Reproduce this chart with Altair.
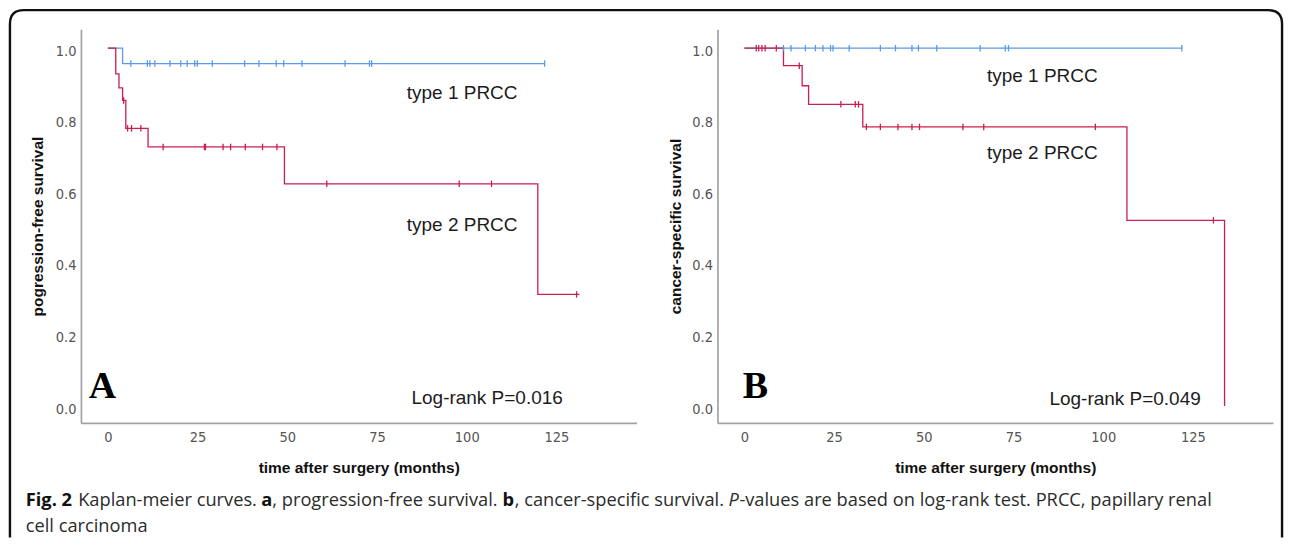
import altair as alt
import pandas as pd

# ---------------- data ----------------
BLUE = "#5b9ae4"
RED = "#c91e50"
GROUPS = ["type 1 PRCC", "type 2 PRCC"]
X_TICKS = [0, 25, 50, 75, 100, 125]
Y_TICKS = [0.0, 0.2, 0.4, 0.6, 0.8, 1.0]

# Panel A : progression-free survival
A1_TIME = [0, 4.1, 121.7]
A1_SURV = [1.0, 0.957, 0.957]
A1_CENS = [6.4, 11.0, 11.7, 13.1, 17.3, 20.3, 22.1, 24.2, 24.9, 29.1, 38.1,
           42.1, 46.9, 49.0, 54.1, 66.1, 72.9, 73.5, 121.7]
A2_TIME = [0, 2.2, 3.1, 4.1, 5.0, 11.2, 49.2, 119.8, 131.4]
A2_SURV = [1.0, 0.928, 0.889, 0.854, 0.776, 0.724, 0.621, 0.312, 0.312]
A2_CENS = [4.4, 5.5, 6.6, 9.2, 15.4, 26.9, 27.2, 32.1, 34.2, 38.3, 43.1,
           47.1, 61.0, 97.9, 106.9, 130.6]

# Panel B : cancer-specific survival
B1_TIME = [0, 121.9]
B1_SURV = [1.0, 1.0]
B1_CENS = [10.9, 13.0, 17.0, 19.8, 21.9, 24.0, 24.7, 29.2, 37.9, 42.1, 46.7,
           48.5, 53.6, 65.7, 72.7, 73.6, 121.9]
B2_TIME = [0, 10.9, 16.1, 17.9, 33.0, 106.6, 133.8]
B2_SURV = [1.0, 0.951, 0.895, 0.843, 0.780, 0.519, 0.0]
B2_CENS = [3.3, 4.0, 4.9, 5.8, 8.9, 15.3, 26.9, 30.9, 31.8, 34.0, 37.9,
           42.8, 46.7, 48.8, 60.9, 66.7, 97.8, 130.7]

A_NOTES = ["type 1 PRCC", "type 2 PRCC", "Log-rank P=0.016"]
A_NOTE_T = [83.3, 83.3, 84.6]
A_NOTE_S = [0.875, 0.507, 0.023]
B_NOTES = ["type 1 PRCC", "type 2 PRCC", "Log-rank P=0.049"]
B_NOTE_T = [67.6, 67.6, 85.0]
B_NOTE_S = [0.923, 0.708, 0.020]
A_LETTER = ("A", -1.5, 0.054)
B_LETTER = ("B", 3.1, 0.052)

CAPTION_1 = [("Fig. 2", "bold"), (" Kaplan-meier curves. ", "normal"), ("a", "bold"),
             (", progression-free survival. ", "normal"), ("b", "bold"),
             (", cancer-specific survival. ", "normal"), ("P", "italic"),
             ("-values are based on log-rank test. PRCC, papillary renal", "normal")]
CAPTION_2 = [("cell carcinoma", "normal")]

# ---------------- helpers ----------------
def surv_at(times, survs, t):
    v = survs[0]
    for ti, si in zip(times, survs):
        if ti <= t:
            v = si
    return v


def steps_df(t1, s1, t2, s2):
    rows = [{"t": t, "s": s, "g": GROUPS[0]} for t, s in zip(t1, s1)]
    rows += [{"t": t, "s": s, "g": GROUPS[1]} for t, s in zip(t2, s2)]
    return pd.DataFrame(rows)


def cens_df(t1, s1, c1, t2, s2, c2):
    rows = [{"t": c, "s": surv_at(t1, s1, c), "g": GROUPS[0]} for c in c1]
    rows += [{"t": c, "s": surv_at(t2, s2, c), "g": GROUPS[1]} for c in c2]
    return pd.DataFrame(rows)


W, H = 556, 394
XDOM = [-7.5, 147.3]
YDOM = [-0.047, 1.053]
TICK_FONT = "Liberation Sans Narrow, DejaVu Sans Condensed, Liberation Sans, sans-serif"


def panel(steps, cens, notes, letter, ytitle, ytitle_x, extra=()):
    X = alt.X("t:Q", scale=alt.Scale(domain=XDOM, nice=False, zero=False),
              axis=alt.Axis(values=X_TICKS, title="time after surgery (months)",
                            titleX=W / 2, titleY=50, titleAlign="center",
                            titleBaseline="alphabetic", labelPadding=7.5))
    Y = alt.Y("s:Q", scale=alt.Scale(domain=YDOM, nice=False, zero=False),
              axis=alt.Axis(values=Y_TICKS, format=".1f", title=ytitle,
                            titleX=ytitle_x, titleY=H / 2, titleAngle=270,
                            titleAlign="center", titleBaseline="alphabetic",
                            labelPadding=5, labelOffset=3))
    col = alt.Color("g:N", scale=alt.Scale(domain=GROUPS, range=[BLUE, RED]), legend=None)
    lines = alt.Chart(steps).mark_line(interpolate="step-after", strokeWidth=1.3).encode(
        x=X, y=Y, color=col, detail="g:N")
    marks = alt.Chart(cens).mark_point(shape="M0,-1L0,1", size=42, strokeWidth=1.3,
                                       filled=False, opacity=1).encode(x=X, y=Y, color=col)
    txt = alt.Chart(notes).mark_text(align="left", baseline="middle", font="Liberation Sans",
                                     fontSize=19, color="#1b1b1b").encode(x=X, y=Y, text="label:N")
    let = alt.Chart(pd.DataFrame([{"label": letter[0], "t": letter[1], "s": letter[2]}])).mark_text(
        align="center", baseline="middle", font="Liberation Serif", fontWeight="bold",
        fontSize=38, color="#000").encode(x=X, y=Y, text="label:N")
    return alt.layer(lines, marks, txt, let, *extra).properties(width=W, height=H)


# ---------------- caption & frame (drawn in panel A's coordinate frame) ----------------
OX, OY = 80.25, 28.25     # panel A plot origin on the page
OS_W = {' ': 532, ',': 502, '.': 545, '-': 659, '2': 1171, 'C': 1266, 'F': 1063,
        'K': 1188, 'P': 1208, 'R': 1243, 'a': 1139, 'b': 1255, 'c': 975, 'd': 1255,
        'e': 1149, 'f': 694, 'g': 1122, 'i': 518, 'k': 1075, 'l': 518, 'm': 1905,
        'n': 1257, 'o': 1237, 'p': 1255, 'r': 836, 's': 977, 't': 723, 'u': 1257,
        'v': 1026, 'y': 1028}


def em(s, style):
    w = sum(OS_W.get(c, 1100) for c in s) / 2048.0
    return w * (1.08 if style == "bold" else 1.0)


line1_em = sum(em(s, st) for s, st in CAPTION_1)
CAP_FS = (1211.5 - 25) / line1_em
ONE = pd.DataFrame({"k": [0]})


def caption_layers(segs, x0, base_y):
    out = []
    x = x0
    for s, st in segs:
        lead = len(s) - len(s.lstrip(" "))
        x += em(" " * lead, st) * CAP_FS
        body = s.strip(" ")
        out.append(alt.Chart(ONE).mark_text(
            text=body, align="left", baseline="alphabetic", font="Open Sans",
            fontSize=CAP_FS, fontWeight="bold" if st == "bold" else "normal",
            fontStyle="italic" if st == "italic" else "normal",
            color="#111" if st == "bold" else "#2b2b2b").encode(
            x=alt.value(x - OX), y=alt.value(base_y - OY)))
        x += em(body, st) * CAP_FS
        trail = len(s) - len(s.rstrip(" "))
        x += em(" " * trail, st) * CAP_FS
    return out


# open-bottomed rounded frame drawn as a filled band (page coords -> panel A coords)
BAND = 2.4
LO, TO, RO, BOT, RAD = 8.0, 8.0, 1283.5, 537.0, 15.0
LI, TI, RI, RADI = LO + BAND, TO + BAND, RO - BAND, RAD - BAND


def P(x, y):
    return f"{x - OX:.2f},{y - OY:.2f}"


FRAME_PATH = (f"M{P(LO, BOT)}L{P(LO, TO + RAD)}Q{P(LO, TO)} {P(LO + RAD, TO)}"
              f"L{P(RO - RAD, TO)}Q{P(RO, TO)} {P(RO, TO + RAD)}L{P(RO, BOT)}"
              f"L{P(RI, BOT)}L{P(RI, TI + RADI)}Q{P(RI, TI)} {P(RI - RADI, TI)}"
              f"L{P(LI + RADI, TI)}Q{P(LI, TI)} {P(LI, TI + RADI)}L{P(LI, BOT)}Z")
frame = alt.Chart(ONE).mark_point(shape=FRAME_PATH, size=4, filled=True, fill="#111",
                                  strokeWidth=0, opacity=1).encode(
    x=alt.value(0), y=alt.value(0))

extras = [frame] + caption_layers(CAPTION_1, 25, 505) + caption_layers(CAPTION_2, 25, 531)

A = panel(steps_df(A1_TIME, A1_SURV, A2_TIME, A2_SURV),
          cens_df(A1_TIME, A1_SURV, A1_CENS, A2_TIME, A2_SURV, A2_CENS),
          pd.DataFrame({"label": A_NOTES, "t": A_NOTE_T, "s": A_NOTE_S}),
          A_LETTER, "pogression-free  survival", -38, extras)
B = panel(steps_df(B1_TIME, B1_SURV, B2_TIME, B2_SURV),
          cens_df(B1_TIME, B1_SURV, B1_CENS, B2_TIME, B2_SURV, B2_CENS),
          pd.DataFrame({"label": B_NOTES, "t": B_NOTE_T, "s": B_NOTE_S}),
          B_LETTER, "cancer-specific survival", -37)

chart = alt.hconcat(A, B, spacing=81, bounds="flush").properties(
    padding=0, background="white"
).configure_view(stroke=None).configure_axis(
    grid=False, ticks=False, tickSize=0, domainColor="#a3a3a3", domainWidth=1.7,
    labelFont=TICK_FONT, labelFontSize=14.5, labelColor="#555555",
    titleFont="Liberation Sans", titleFontSize=15.5, titleFontWeight="bold",
    titleColor="#111111"
)

chart.save("out.html", embed_options={"renderer": "svg", "actions": False})
